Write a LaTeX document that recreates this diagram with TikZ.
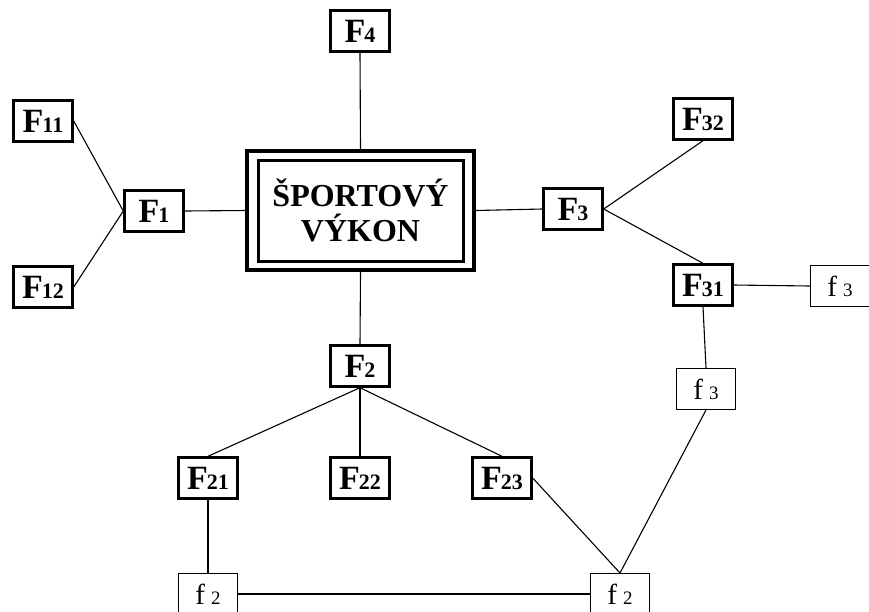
\documentclass[tikz,border=0pt]{standalone}
\usepackage{fontspec}
\setmainfont{Liberation Serif}
\newcommand{\Flab}[1]{{\fontsize{34}{34}\selectfont\bfseries F}\kern-1pt{\fontsize{22}{22}\selectfont\bfseries #1}}
\newcommand{\flab}[1]{{\fontsize{29}{29}\selectfont f}\kern6pt{\fontsize{19}{19}\selectfont #1}}
\tikzset{
  fbox/.style={draw, line width=2.4pt, minimum width=59pt, minimum height=41pt, inner sep=0pt, fill=white},
  sbox/.style={draw, line width=1pt, minimum width=59pt, minimum height=41pt, inner sep=0pt, fill=white},
  conn/.style={line width=1.1pt}
}
\begin{document}
\begin{tikzpicture}[x=1pt,y=-1pt]
\clip (0,0) rectangle (869,611);
\fill[white] (0,0) rectangle (869,611);
% main box
\node[draw, line width=4pt, minimum width=227pt, minimum height=119pt, inner sep=0pt] (main) at (360.5,210.5) {};
\node[draw, line width=3pt, minimum width=205pt, minimum height=101pt, inner sep=0pt,
      align=center, font=\fontsize{32}{35}\selectfont\bfseries] (maininner) at (360.5,210.5) {ŠPORTOVÝ\\VÝKON};
% F nodes
\node[fbox] (F4) at (360,31) {\Flab{4}};
\node[fbox] (F1) at (154,211) {\Flab{1}};
\node[fbox] (F11) at (43,121) {\Flab{11}};
\node[fbox] (F12) at (43,287) {\Flab{12}};
\node[fbox] (F3) at (573,209) {\Flab{3}};
\node[fbox] (F32) at (703,119) {\Flab{32}};
\node[fbox] (F31) at (703,285) {\Flab{31}};
\node[fbox] (F2) at (360,366) {\Flab{2}};
\node[fbox] (F21) at (208,478) {\Flab{21}};
\node[fbox] (F22) at (360,478) {\Flab{22}};
\node[fbox] (F23) at (502,478) {\Flab{23}};
% f nodes
\node[sbox] (f3a) at (840,286) {\flab{3}};
\node[sbox] (f3b) at (706,389) {\flab{3}};
\node[sbox] (f2a) at (208,594) {\flab{2}};
\node[sbox] (f2b) at (620,594) {\flab{2}};
% connectors
\draw[conn] (F4.south) -- (main.north);
\draw[conn] (F1.east) -- (main.west);
\draw[conn] (main.east) -- (F3.west);
\draw[conn] (main.south) -- (F2.north);
\draw[conn] (F1.west) -- (F11.east);
\draw[conn] (F1.west) -- (F12.east);
\draw[conn] (F3.east) -- (F32.south);
\draw[conn] (F3.east) -- (F31.north);
\draw[conn] (F31.east) -- (f3a.west);
\draw[conn] (F31.south) -- (f3b.north);
\draw[conn] (F2.south) -- (F21.north);
\draw[conn] (F2.south) -- (F22.north);
\draw[conn] (F2.south) -- (F23.north);
\draw[conn] (F21.south) -- (f2a.north);
\draw[conn] (f2a.east) -- (f2b.west);
\draw[conn] (F23.east) -- (f2b.north);
\draw[conn] (f3b.south) -- (f2b.north);
\end{tikzpicture}
\end{document}
